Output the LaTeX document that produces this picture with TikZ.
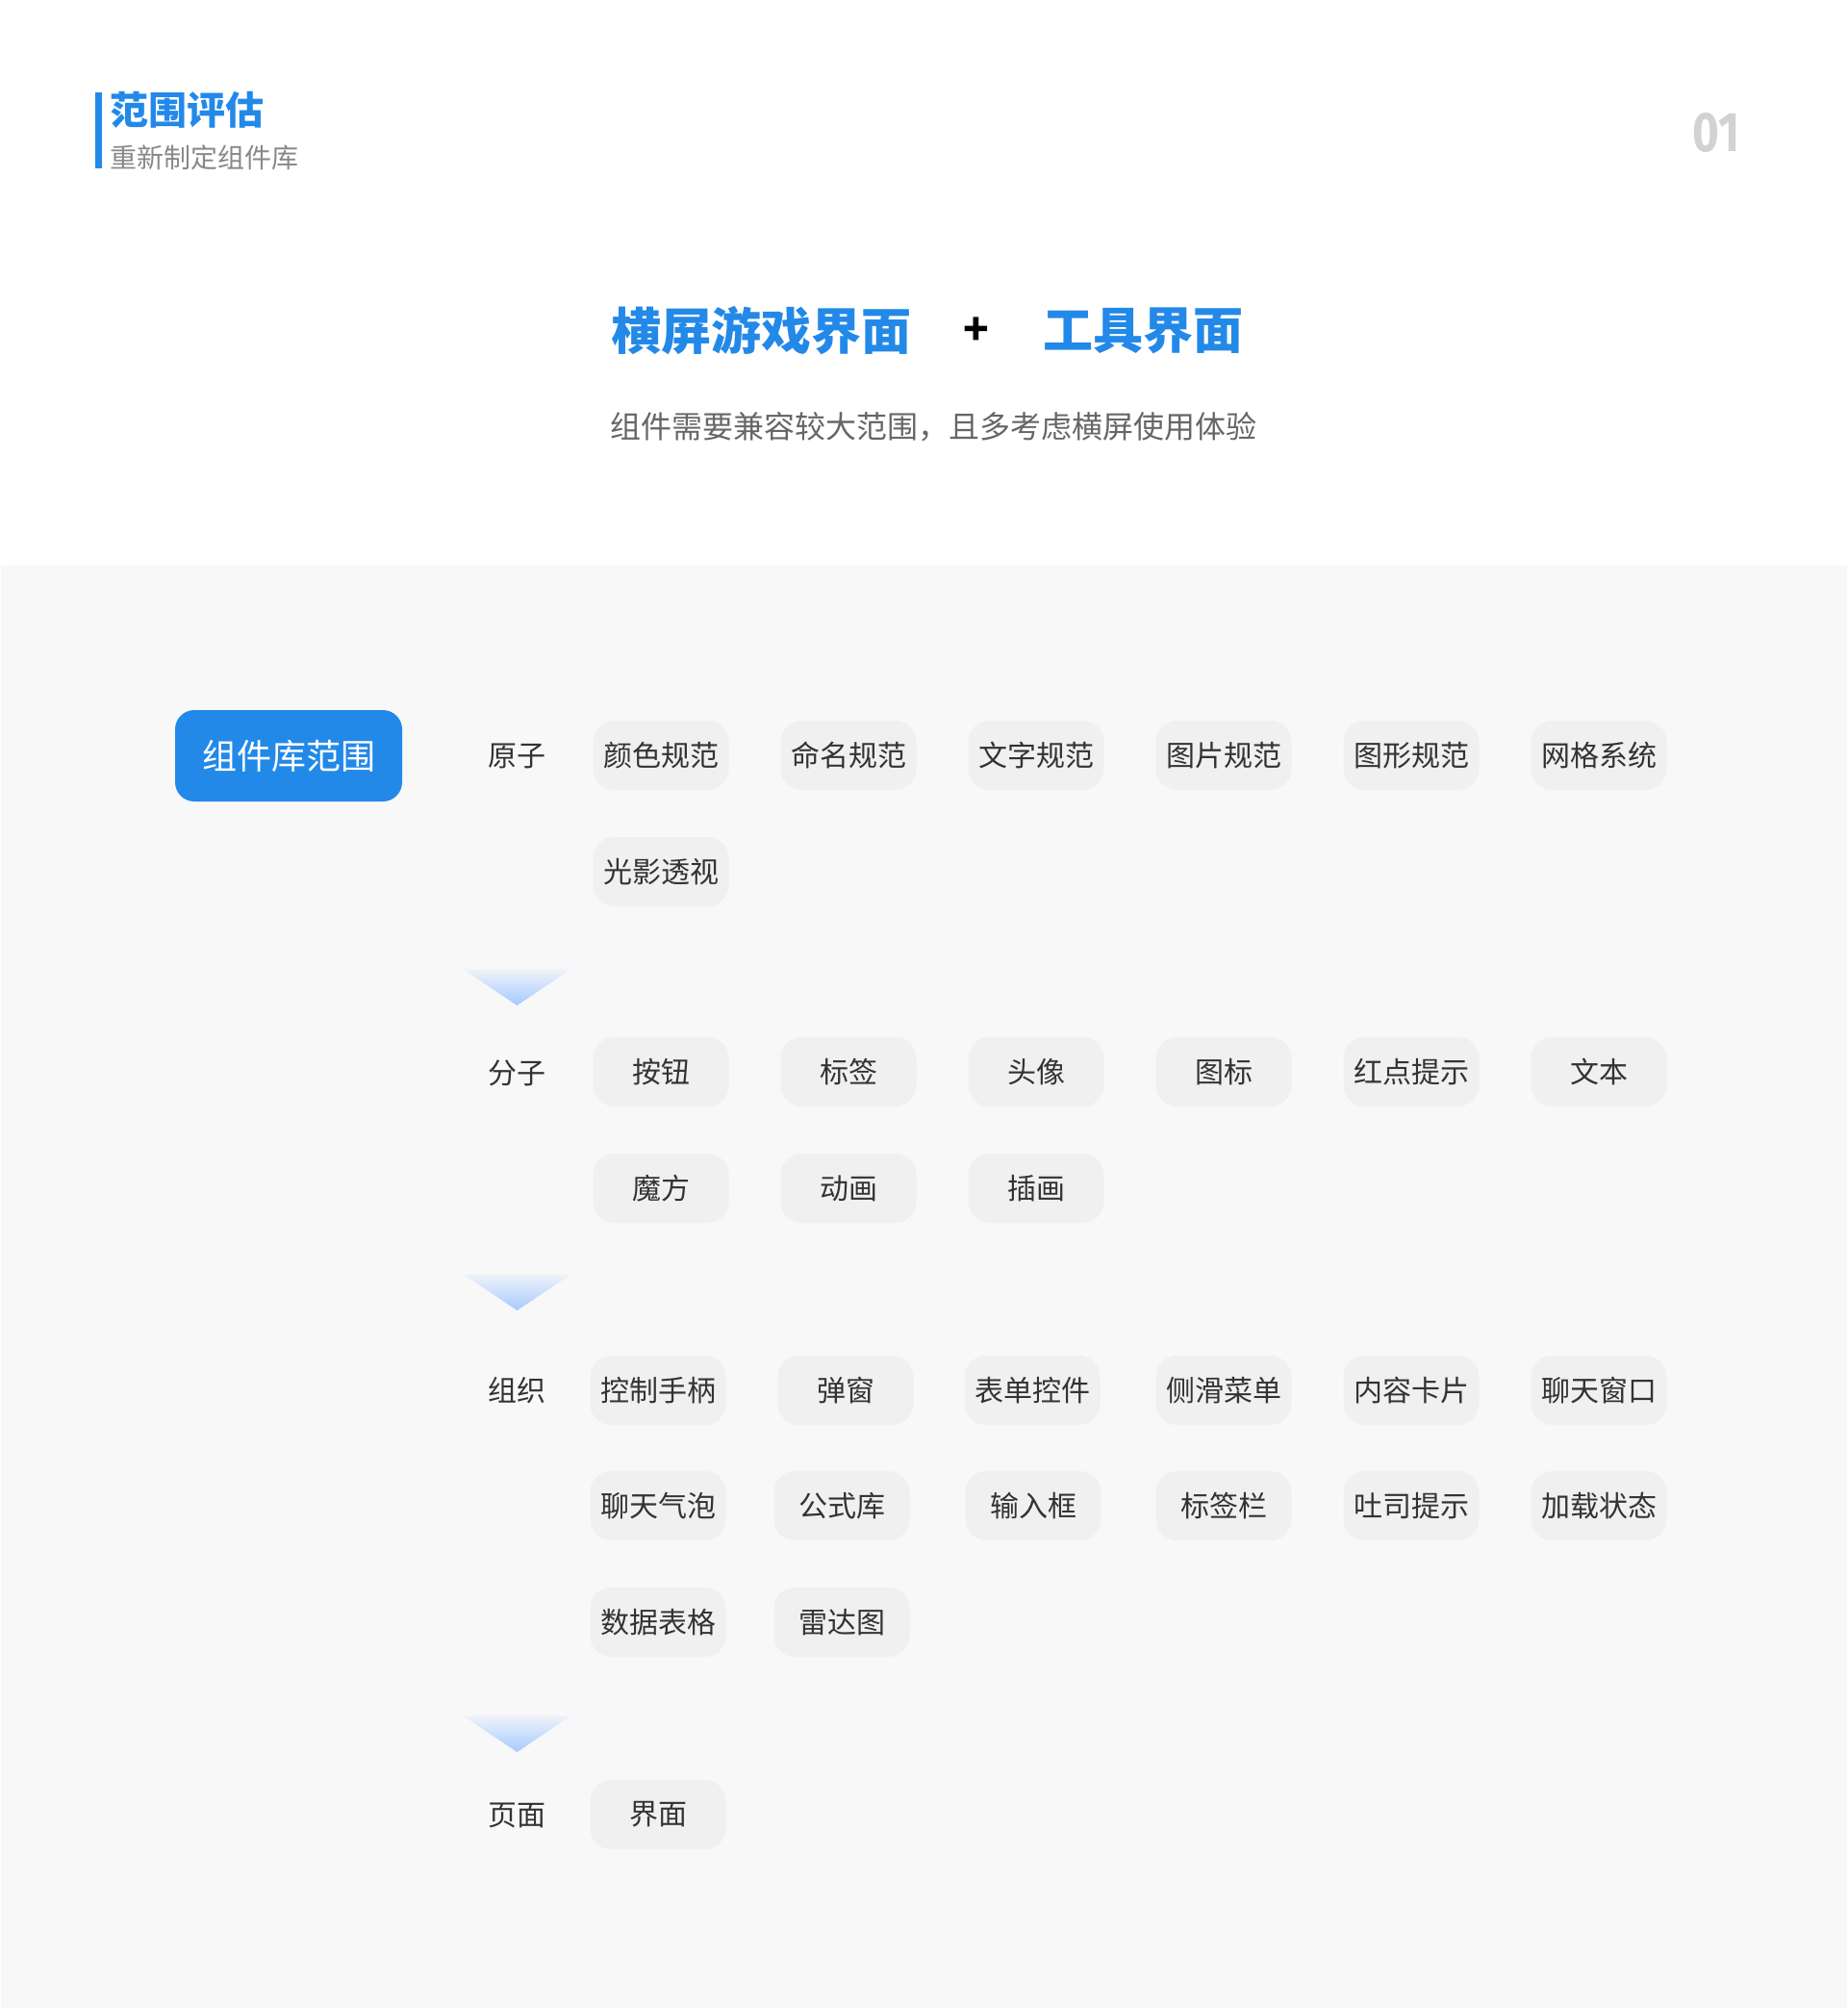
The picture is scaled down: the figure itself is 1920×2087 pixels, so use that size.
\documentclass[tikz,border=0pt]{standalone}
\usepackage{fontspec}
\setmainfont{Noto Sans CJK SC}
\newfontfamily\cjk{Noto Sans CJK SC}
\newfontfamily\digits{Fira Sans}
\definecolor{brandblue}{HTML}{2389E8}
\definecolor{chipgray}{HTML}{F0F0F0}
\definecolor{bggray}{HTML}{F8F8F8}
\definecolor{inkgray}{HTML}{333333}
\definecolor{subgray}{HTML}{888888}
\definecolor{leadgray}{HTML}{666666}
\definecolor{numgray}{HTML}{D2D2D2}
\definecolor{arrowblue}{HTML}{A6CAFF}

\begin{document}
\begin{tikzpicture}[x=1pt,y=-1pt,
  chip/.style={fill=chipgray,rounded corners=22pt,minimum width=141pt,minimum height=72pt,
    inner sep=0pt,text=inkgray,font=\cjk\fontsize{30pt}{34pt}\selectfont},
  level/.style={inner sep=0pt,text=inkgray,font=\cjk\fontsize{30pt}{34pt}\selectfont},
  fade/.style={top color=arrowblue!10!bggray,bottom color=arrowblue,draw=none}]
  \useasboundingbox (0,0) rectangle (1920,2087);
  % Page and lower panel
  \fill[white] (0,0) rectangle (1920,2087);
  \fill[bggray] (1,587) rectangle (1920,2087);
  % Header
  \fill[brandblue] (99,96) rectangle (106,175);
  \node[anchor=west,inner sep=0pt,text=brandblue,font=\cjk\bfseries\fontsize{40pt}{44pt}\selectfont] (title) at (114,114) {范围评估};
  \node[anchor=west,inner sep=0pt,text=subgray,font=\cjk\fontsize{28pt}{32pt}\selectfont] (subtitle) at (114,164) {重新制定组件库};
  \node[inner sep=0pt,text=numgray,xscale=0.82,font=\digits\bfseries\fontsize{58pt}{60pt}\selectfont] (num) at (1784,138) {01};
  % Headline
  \node[inner sep=0pt,text=brandblue,font=\cjk\bfseries\fontsize{52pt}{56pt}\selectfont] (game) at (791,344) {横屏游戏界面};
  \node[inner sep=0pt,text=black,font=\cjk\bfseries\fontsize{44pt}{48pt}\selectfont] (plus) at (1015,344) {+};
  \node[inner sep=0pt,text=brandblue,font=\cjk\bfseries\fontsize{52pt}{56pt}\selectfont] (tool) at (1188,344) {工具界面};
  \node[inner sep=0pt,text=leadgray,font=\cjk\fontsize{32pt}{36pt}\selectfont] (lead) at (970,444) {组件需要兼容较大范围，且多考虑横屏使用体验};
  % Root box
  \node[fill=brandblue,rounded corners=20pt,minimum width=236pt,minimum height=95pt,inner sep=0pt,
    text=white,font=\cjk\fontsize{36pt}{40pt}\selectfont] (lib) at (300,785.5) {组件库范围};
  % Level labels
  \foreach \n/\y/\t in {atom/786/原子,molecule/1115/分子,organism/1445/组织,page/1887/页面}{
    \node[level] (\n) at (537,\y) {\t};}
  % Level arrows (faded triangles)
  \foreach \y in {1007,1324,1783}{
    \shade[fade] (481,\y) -- (594,\y) -- (537.5,\y+38) -- cycle;}
  % Atoms
  \foreach \n/\x/\y/\t in {a1/687/785/颜色规范,a2/882/785/命名规范,a3/1077/785/文字规范,
    a4/1272/785/图片规范,a5/1467/785/图形规范,a6/1662/785/网格系统,a7/687/906/光影透视}{
    \node[chip] (\n) at (\x,\y) {\t};}
  % Molecules
  \foreach \n/\x/\y/\t in {m1/687/1114/按钮,m2/882/1114/标签,m3/1077/1114/头像,
    m4/1272/1114/图标,m5/1467/1114/红点提示,m6/1662/1114/文本,
    m7/687/1235/魔方,m8/882/1235/动画,m9/1077/1235/插画}{
    \node[chip] (\n) at (\x,\y) {\t};}
  % Organisms
  \foreach \n/\x/\y/\t in {o1/684/1445/控制手柄,o2/879/1445/弹窗,o3/1073/1445/表单控件,
    o4/1272/1445/侧滑菜单,o5/1467/1445/内容卡片,o6/1662/1445/聊天窗口,
    o7/684/1565/聊天气泡,o8/875/1565/公式库,o9/1074/1565/输入框,
    o10/1272/1565/标签栏,o11/1467/1565/吐司提示,o12/1662/1565/加载状态,
    o13/684/1686/数据表格,o14/875/1686/雷达图}{
    \node[chip] (\n) at (\x,\y) {\t};}
  % Pages
  \node[chip] (p1) at (684,1886) {界面};
\end{tikzpicture}
\end{document}
